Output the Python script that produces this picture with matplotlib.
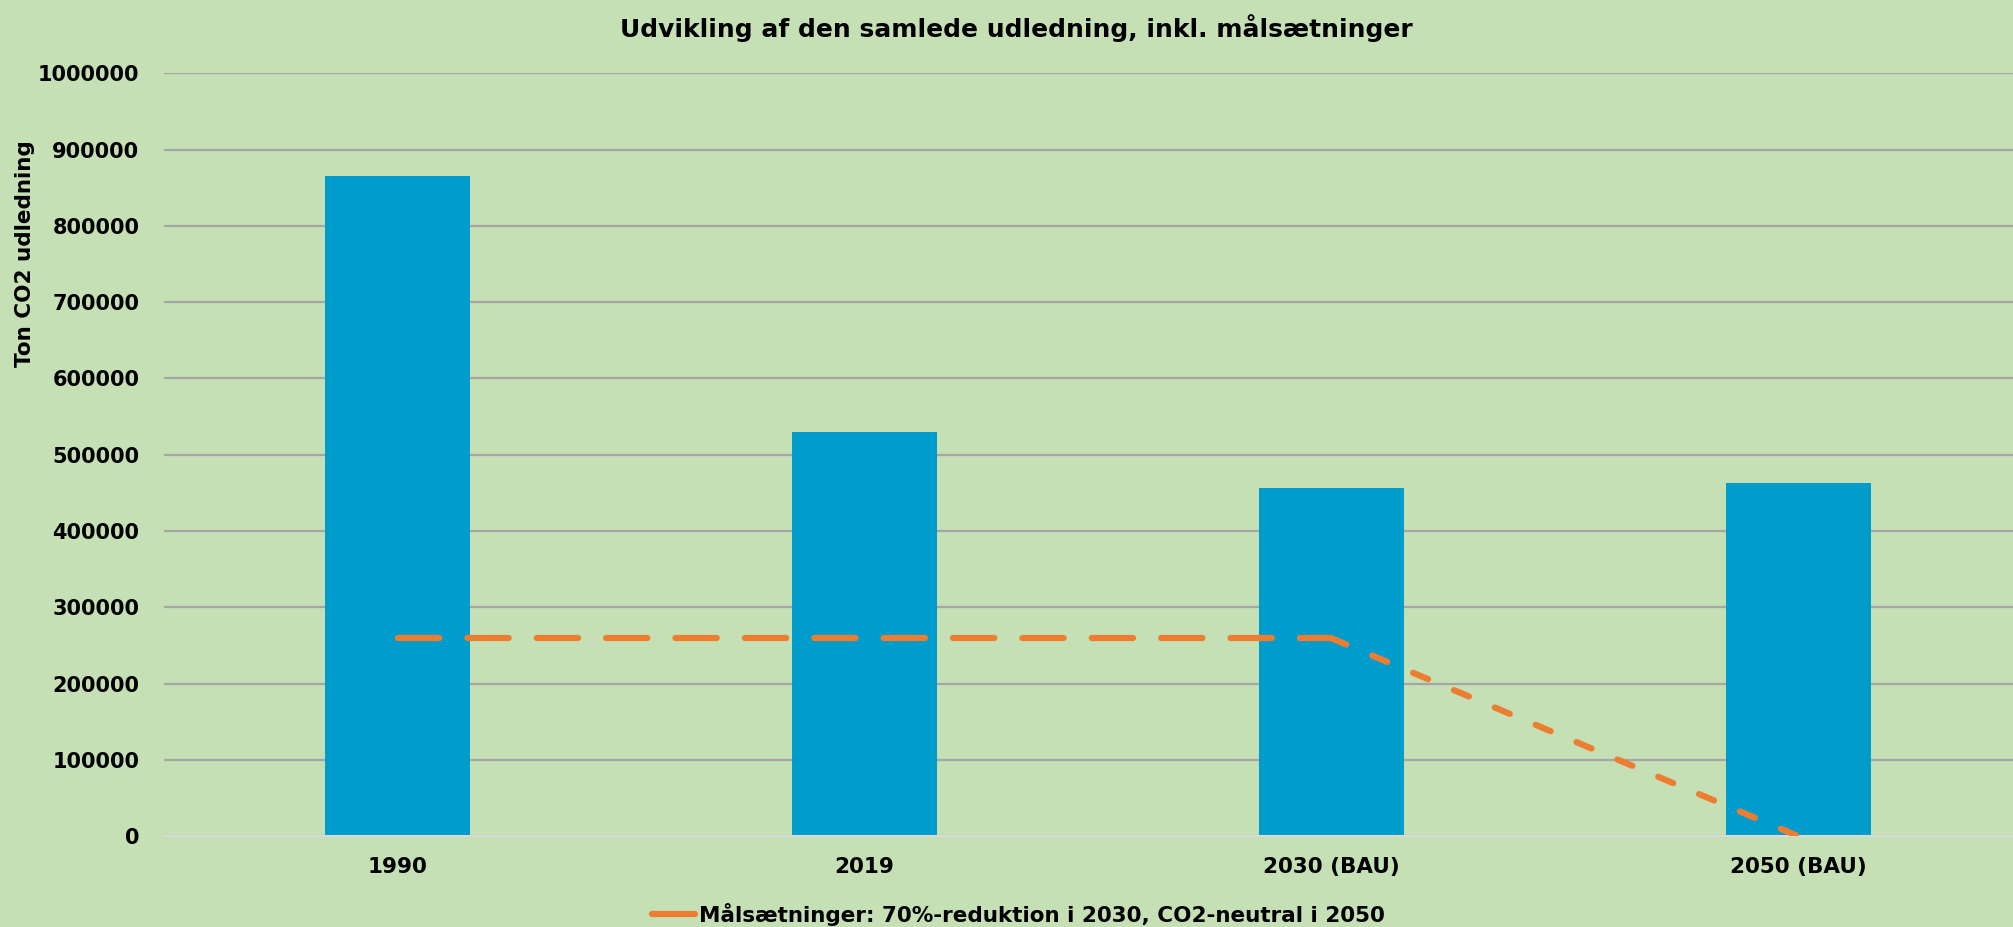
from __future__ import annotations

from pathlib import Path

import matplotlib.pyplot as plt
from matplotlib.lines import Line2D

CATEGORIES = ["1990", "2019", "2030 (BAU)", "2050 (BAU)"]
EMISSIONS = [865000, 530000, 456000, 463000]
TARGETS = [259500, 259500, 259500, 0]
TARGET_LABEL = "Målsætninger: 70%-reduktion i 2030, CO2-neutral i 2050"
Y_TICKS = [0, 100000, 200000, 300000, 400000, 500000, 600000, 700000, 800000, 900000, 1000000]


def make_emissions_plot(output_path: Path, title: str = "Udvikling af den samlede udledning, inkl. målsætninger") -> Path:
    background = "#C5E0B4"
    orange = "#ED7D31"
    fig = plt.figure(figsize=(20.13, 9.27), dpi=100, facecolor=background)
    ax = fig.add_axes([0.0816, 0.098, 0.9184, 0.823])
    ax.set_facecolor(background)
    positions = list(range(len(CATEGORIES)))
    ax.bar(positions, EMISSIONS, width=0.31, color="#009DCC", zorder=2)
    # flat part up to 2030 uses long dashes, the drop to 2050 shorter ones
    ax.plot(positions[:3], TARGETS[:3], color=orange, linewidth=4.5, dashes=(6.6, 4.5), dash_capstyle="round", zorder=3)
    ax.plot(positions[2:], TARGETS[2:], color=orange, linewidth=4.5, dashes=(2.6, 4.5), dash_capstyle="round", zorder=3)
    ax.set_xlim(-0.5, 3.46)
    ax.set_ylim(0, 1000000)
    ax.set_xticks(positions)
    ax.set_xticklabels(CATEGORIES, fontsize=15.5, fontweight="bold")
    ax.set_yticks(Y_TICKS)
    ax.set_yticklabels([str(v) for v in Y_TICKS], fontsize=15, fontweight="bold")
    ax.tick_params(axis="both", length=0)
    ax.tick_params(axis="x", pad=15)
    ax.tick_params(axis="y", pad=18)
    for name in ("top", "right", "left"):
        ax.spines[name].set_visible(False)
    ax.spines["bottom"].set_color("#D9D9D9")
    ax.spines["bottom"].set_linewidth(1.5)
    ax.grid(axis="y", color="#A6A6A6", linewidth=1.6, zorder=0)
    ax.set_axisbelow(True)
    ax.set_ylabel("Ton CO2 udledning", fontsize=15.5, fontweight="bold")
    ax.yaxis.set_label_coords(-0.07, 0.764)
    fig.suptitle(title, fontsize=18, fontweight="bold", x=0.505, y=0.985)
    handle = Line2D([], [], color=orange, linewidth=4.5, solid_capstyle="round")
    fig.legend(
        [handle],
        [TARGET_LABEL],
        loc="center",
        bbox_to_anchor=(0.506, 0.014),
        frameon=False,
        prop={"size": 15.5, "weight": "bold"},
        handlelength=2.0,
        handletextpad=0.2,
    )
    output_path.parent.mkdir(parents=True, exist_ok=True)
    fig.savefig(output_path, dpi=100, facecolor=background)
    plt.close(fig)
    return output_path


make_emissions_plot(Path("out.png"))
